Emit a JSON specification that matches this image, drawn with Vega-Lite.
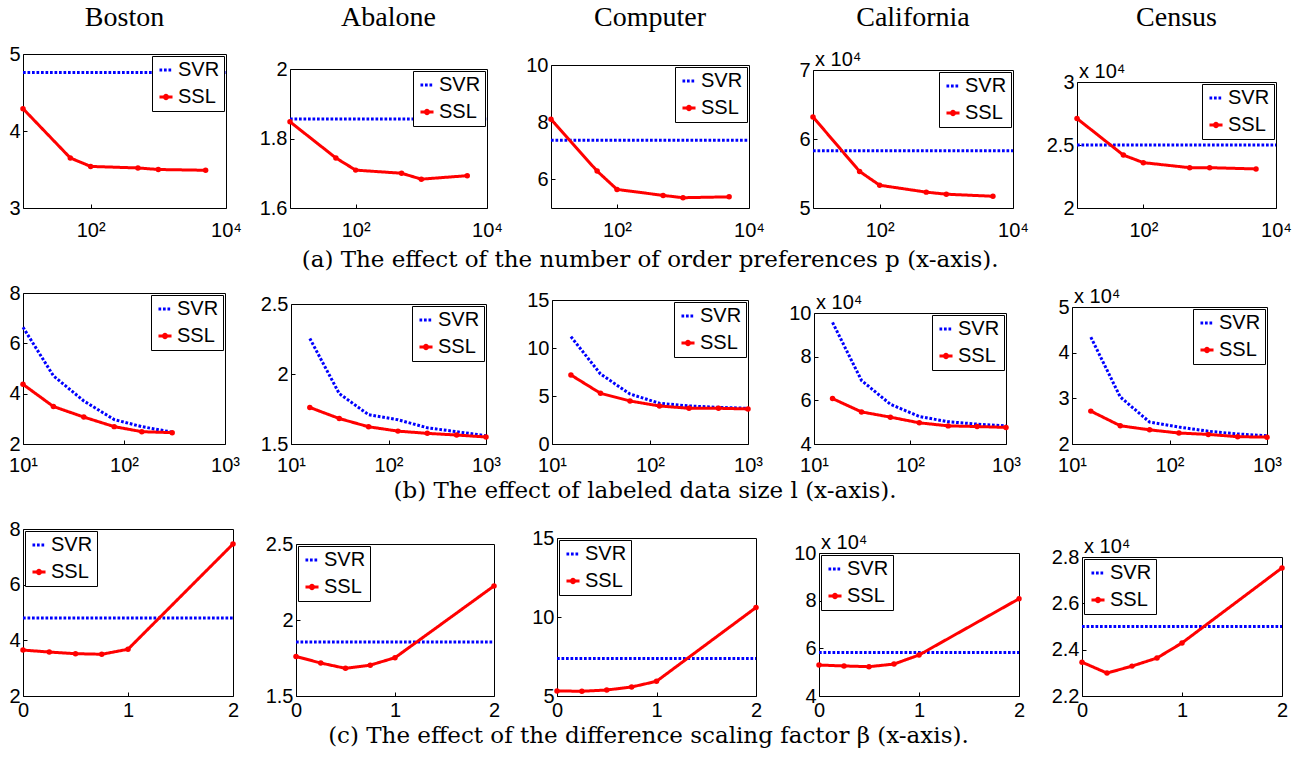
{
 "$schema": "https://vega.github.io/schema/vega-lite/v6.json",
 "padding": {"left": 8, "top": 3, "right": 0, "bottom": 0},
 "background": "white",
 "datasets": {
  "p": [
   {"ds":"Boston","method":"SVR","p":10,"error":4.76},{"ds":"Boston","method":"SVR","p":10000,"error":4.76},
   {"ds":"Boston","method":"SSL","p":10,"error":4.29},{"ds":"Boston","method":"SSL","p":50,"error":3.65},{"ds":"Boston","method":"SSL","p":100,"error":3.54},{"ds":"Boston","method":"SSL","p":500,"error":3.52},{"ds":"Boston","method":"SSL","p":1000,"error":3.50},{"ds":"Boston","method":"SSL","p":5000,"error":3.49},
   {"ds":"Abalone","method":"SVR","p":10,"error":1.856},{"ds":"Abalone","method":"SVR","p":10000,"error":1.856},
   {"ds":"Abalone","method":"SSL","p":10,"error":1.848},{"ds":"Abalone","method":"SSL","p":50,"error":1.744},{"ds":"Abalone","method":"SSL","p":100,"error":1.709},{"ds":"Abalone","method":"SSL","p":500,"error":1.700},{"ds":"Abalone","method":"SSL","p":1000,"error":1.683},{"ds":"Abalone","method":"SSL","p":5000,"error":1.693},
   {"ds":"Computer","method":"SVR","p":10,"error":7.37},{"ds":"Computer","method":"SVR","p":10000,"error":7.37},
   {"ds":"Computer","method":"SSL","p":10,"error":8.10},{"ds":"Computer","method":"SSL","p":50,"error":6.29},{"ds":"Computer","method":"SSL","p":100,"error":5.65},{"ds":"Computer","method":"SSL","p":500,"error":5.44},{"ds":"Computer","method":"SSL","p":1000,"error":5.36},{"ds":"Computer","method":"SSL","p":5000,"error":5.39},
   {"ds":"California","method":"SVR","p":10,"error":58300},{"ds":"California","method":"SVR","p":10000,"error":58300},
   {"ds":"California","method":"SSL","p":10,"error":63200},{"ds":"California","method":"SSL","p":50,"error":55300},{"ds":"California","method":"SSL","p":100,"error":53300},{"ds":"California","method":"SSL","p":500,"error":52300},{"ds":"California","method":"SSL","p":1000,"error":52000},{"ds":"California","method":"SSL","p":5000,"error":51700},
   {"ds":"Census","method":"SVR","p":10,"error":25000},{"ds":"Census","method":"SVR","p":10000,"error":25000},
   {"ds":"Census","method":"SSL","p":10,"error":27100},{"ds":"Census","method":"SSL","p":50,"error":24200},{"ds":"Census","method":"SSL","p":100,"error":23600},{"ds":"Census","method":"SSL","p":500,"error":23200},{"ds":"Census","method":"SSL","p":1000,"error":23200},{"ds":"Census","method":"SSL","p":5000,"error":23100}
  ],
  "l": [
   {"ds":"Boston","method":"SVR","l":10,"error":6.64},{"ds":"Boston","method":"SVR","l":20,"error":4.71},{"ds":"Boston","method":"SVR","l":40,"error":3.71},{"ds":"Boston","method":"SVR","l":80,"error":2.97},{"ds":"Boston","method":"SVR","l":150,"error":2.69},{"ds":"Boston","method":"SVR","l":300,"error":2.47},
   {"ds":"Boston","method":"SSL","l":10,"error":4.37},{"ds":"Boston","method":"SSL","l":20,"error":3.49},{"ds":"Boston","method":"SSL","l":40,"error":3.07},{"ds":"Boston","method":"SSL","l":80,"error":2.69},{"ds":"Boston","method":"SSL","l":150,"error":2.49},{"ds":"Boston","method":"SSL","l":300,"error":2.45},
   {"ds":"Abalone","method":"SVR","l":15.6,"error":2.254},{"ds":"Abalone","method":"SVR","l":31.25,"error":1.860},{"ds":"Abalone","method":"SVR","l":62.5,"error":1.709},{"ds":"Abalone","method":"SVR","l":125,"error":1.673},{"ds":"Abalone","method":"SVR","l":250,"error":1.616},{"ds":"Abalone","method":"SVR","l":500,"error":1.588},{"ds":"Abalone","method":"SVR","l":1000,"error":1.559},
   {"ds":"Abalone","method":"SSL","l":15.6,"error":1.761},{"ds":"Abalone","method":"SSL","l":31.25,"error":1.682},{"ds":"Abalone","method":"SSL","l":62.5,"error":1.623},{"ds":"Abalone","method":"SSL","l":125,"error":1.592},{"ds":"Abalone","method":"SSL","l":250,"error":1.576},{"ds":"Abalone","method":"SSL","l":500,"error":1.564},{"ds":"Abalone","method":"SSL","l":1000,"error":1.550},
   {"ds":"Computer","method":"SVR","l":15.6,"error":11.18},{"ds":"Computer","method":"SVR","l":31.25,"error":7.29},{"ds":"Computer","method":"SVR","l":62.5,"error":5.21},{"ds":"Computer","method":"SVR","l":125,"error":4.24},{"ds":"Computer","method":"SVR","l":250,"error":3.96},{"ds":"Computer","method":"SVR","l":500,"error":3.82},{"ds":"Computer","method":"SVR","l":1000,"error":3.72},
   {"ds":"Computer","method":"SSL","l":15.6,"error":7.19},{"ds":"Computer","method":"SSL","l":31.25,"error":5.28},{"ds":"Computer","method":"SSL","l":62.5,"error":4.48},{"ds":"Computer","method":"SSL","l":125,"error":3.96},{"ds":"Computer","method":"SSL","l":250,"error":3.72},{"ds":"Computer","method":"SSL","l":500,"error":3.72},{"ds":"Computer","method":"SSL","l":1000,"error":3.65},
   {"ds":"California","method":"SVR","l":15.6,"error":95700},{"ds":"California","method":"SVR","l":31.25,"error":69100},{"ds":"California","method":"SVR","l":62.5,"error":58200},{"ds":"California","method":"SVR","l":125,"error":52600},{"ds":"California","method":"SVR","l":250,"error":50200},{"ds":"California","method":"SVR","l":500,"error":49100},{"ds":"California","method":"SVR","l":1000,"error":48300},
   {"ds":"California","method":"SSL","l":15.6,"error":60800},{"ds":"California","method":"SSL","l":31.25,"error":54700},{"ds":"California","method":"SSL","l":62.5,"error":52300},{"ds":"California","method":"SSL","l":125,"error":49700},{"ds":"California","method":"SSL","l":250,"error":48300},{"ds":"California","method":"SSL","l":500,"error":48000},{"ds":"California","method":"SSL","l":1000,"error":47600},
   {"ds":"Census","method":"SVR","l":15.6,"error":43400},{"ds":"Census","method":"SVR","l":31.25,"error":30300},{"ds":"Census","method":"SVR","l":62.5,"error":24800},{"ds":"Census","method":"SVR","l":125,"error":23700},{"ds":"Census","method":"SVR","l":250,"error":22800},{"ds":"Census","method":"SVR","l":500,"error":22200},{"ds":"Census","method":"SVR","l":1000,"error":21800},
   {"ds":"Census","method":"SSL","l":15.6,"error":27200},{"ds":"Census","method":"SSL","l":31.25,"error":24000},{"ds":"Census","method":"SSL","l":62.5,"error":23100},{"ds":"Census","method":"SSL","l":125,"error":22400},{"ds":"Census","method":"SSL","l":250,"error":22100},{"ds":"Census","method":"SSL","l":500,"error":21600},{"ds":"Census","method":"SSL","l":1000,"error":21500}
  ],
  "b": [
   {"ds":"Boston","method":"SVR","beta":0,"error":4.80},{"ds":"Boston","method":"SVR","beta":2,"error":4.80},
   {"ds":"Boston","method":"SSL","beta":0,"error":3.65},{"ds":"Boston","method":"SSL","beta":0.25,"error":3.58},{"ds":"Boston","method":"SSL","beta":0.5,"error":3.52},{"ds":"Boston","method":"SSL","beta":0.75,"error":3.50},{"ds":"Boston","method":"SSL","beta":1,"error":3.68},{"ds":"Boston","method":"SSL","beta":2,"error":7.46},
   {"ds":"Abalone","method":"SVR","beta":0,"error":1.855},{"ds":"Abalone","method":"SVR","beta":2,"error":1.855},
   {"ds":"Abalone","method":"SSL","beta":0,"error":1.760},{"ds":"Abalone","method":"SSL","beta":0.25,"error":1.717},{"ds":"Abalone","method":"SSL","beta":0.5,"error":1.682},{"ds":"Abalone","method":"SSL","beta":0.75,"error":1.703},{"ds":"Abalone","method":"SSL","beta":1,"error":1.752},{"ds":"Abalone","method":"SSL","beta":2,"error":2.224},
   {"ds":"Computer","method":"SVR","beta":0,"error":7.37},{"ds":"Computer","method":"SVR","beta":2,"error":7.37},
   {"ds":"Computer","method":"SSL","beta":0,"error":5.32},{"ds":"Computer","method":"SSL","beta":0.25,"error":5.30},{"ds":"Computer","method":"SSL","beta":0.5,"error":5.38},{"ds":"Computer","method":"SSL","beta":0.75,"error":5.57},{"ds":"Computer","method":"SSL","beta":1,"error":5.93},{"ds":"Computer","method":"SSL","beta":2,"error":10.60},
   {"ds":"California","method":"SVR","beta":0,"error":58200},{"ds":"California","method":"SVR","beta":2,"error":58200},
   {"ds":"California","method":"SSL","beta":0,"error":53000},{"ds":"California","method":"SSL","beta":0.25,"error":52600},{"ds":"California","method":"SSL","beta":0.5,"error":52300},{"ds":"California","method":"SSL","beta":0.75,"error":53400},{"ds":"California","method":"SSL","beta":1,"error":57200},{"ds":"California","method":"SSL","beta":2,"error":80800},
   {"ds":"Census","method":"SVR","beta":0,"error":25000},{"ds":"Census","method":"SVR","beta":2,"error":25000},
   {"ds":"Census","method":"SSL","beta":0,"error":23460},{"ds":"Census","method":"SSL","beta":0.25,"error":22990},{"ds":"Census","method":"SSL","beta":0.5,"error":23290},{"ds":"Census","method":"SSL","beta":0.75,"error":23640},{"ds":"Census","method":"SSL","beta":1,"error":24290},{"ds":"Census","method":"SSL","beta":2,"error":27530}
  ]
 },
 "spacing": 0,
 "resolve": {"scale": {"color": "independent", "strokeDash": "independent"}, "legend": {"color": "independent", "strokeDash": "independent"}},
 "vconcat": [
  {
   "hconcat": [
    {
     "width": 203, "height": 154,
     "title": {"text": "Boston", "frame": "group", "offset": 12, "font": "Liberation Serif", "fontSize": 28},
     "data": {"name": "p"}, "transform": [{"filter": "datum.ds === 'Boston'"}],
     "encoding": {
      "x": {"field": "p", "type": "quantitative", "scale": {"type": "log", "domain": [10, 10000]}, "axis": {"values": [100, 10000], "labelPadding": 16, "labelExpr": "datum.value == 10 ? '10\u00b9' : datum.value == 100 ? '10\u00b2' : datum.value == 1000 ? '10\u00b3' : '10\u2074'"}},
      "y": {"field": "error", "type": "quantitative", "scale": {"domain": [3, 5]}, "axis": {"values": [3, 4, 5], "minExtent": 0, "maxExtent": 0}}
     },
     "layer": [
      {"mark": {"type": "line", "strokeWidth": 3}, "encoding": {
       "color": {"field": "method", "type": "nominal", "scale": {"domain": ["SVR", "SSL"], "range": ["#0000ff", "#ff0000"]}, "legend": {"title": null, "orient": "top-right", "encode": {"symbols": {"update": {"shape": {"signal": "datum.value === 'SSL' ? 'M-1,0L1,0M-0.25,0A0.25,0.25,0,1,0,0.25,0A0.25,0.25,0,1,0,-0.25,0' : 'stroke'"}}}}}},
       "strokeDash": {"field": "method", "type": "nominal", "scale": {"domain": ["SVR", "SSL"], "range": [[2.7, 1.8], [1, 0]]}, "legend": {"title": null, "orient": "top-right", "encode": {"symbols": {"update": {"shape": {"signal": "datum.value === 'SSL' ? 'M-1,0L1,0M-0.25,0A0.25,0.25,0,1,0,0.25,0A0.25,0.25,0,1,0,-0.25,0' : 'stroke'"}}}}}}}},
      {"transform": [{"filter": "datum.method === 'SSL'"}], "mark": {"type": "point", "filled": true, "color": "#ff0000", "size": 30, "opacity": 1}}
     ]
    },
    {
     "vconcat": [
      {"width": 197, "height": 15, "data": {"values": []}, "mark": "point", "view": {"stroke": null}, "title": {"text": "Abalone", "frame": "group", "offset": 22, "font": "Liberation Serif", "fontSize": 28}},
      {
       "width": 197, "height": 139,
       "data": {"name": "p"}, "transform": [{"filter": "datum.ds === 'Abalone'"}],
       "encoding": {
        "x": {"field": "p", "type": "quantitative", "scale": {"type": "log", "domain": [10, 10000]}, "axis": {"values": [100, 10000], "labelPadding": 16, "labelExpr": "datum.value == 10 ? '10\u00b9' : datum.value == 100 ? '10\u00b2' : datum.value == 1000 ? '10\u00b3' : '10\u2074'"}},
        "y": {"field": "error", "type": "quantitative", "scale": {"domain": [1.6, 2]}, "axis": {"values": [1.6, 1.8, 2]}}
       },
       "layer": [
        {"mark": {"type": "line", "strokeWidth": 3}, "encoding": {
         "color": {"field": "method", "type": "nominal", "scale": {"domain": ["SVR", "SSL"], "range": ["#0000ff", "#ff0000"]}, "legend": {"title": null, "orient": "top-right", "encode": {"symbols": {"update": {"shape": {"signal": "datum.value === 'SSL' ? 'M-1,0L1,0M-0.25,0A0.25,0.25,0,1,0,0.25,0A0.25,0.25,0,1,0,-0.25,0' : 'stroke'"}}}}}},
         "strokeDash": {"field": "method", "type": "nominal", "scale": {"domain": ["SVR", "SSL"], "range": [[2.7, 1.8], [1, 0]]}, "legend": {"title": null, "orient": "top-right", "encode": {"symbols": {"update": {"shape": {"signal": "datum.value === 'SSL' ? 'M-1,0L1,0M-0.25,0A0.25,0.25,0,1,0,0.25,0A0.25,0.25,0,1,0,-0.25,0' : 'stroke'"}}}}}}}},
        {"transform": [{"filter": "datum.method === 'SSL'"}], "mark": {"type": "point", "filled": true, "color": "#ff0000", "size": 30, "opacity": 1}}
       ]
      }
     ],
     "spacing": 0, "bounds": "flush",
     "resolve": {"scale": {"color": "independent", "strokeDash": "independent"}, "legend": {"color": "independent", "strokeDash": "independent"}}
    },
    {
     "vconcat": [
      {"width": 198, "height": 11, "data": {"values": []}, "mark": "point", "view": {"stroke": null}, "title": {"text": "Computer", "frame": "group", "offset": 22, "font": "Liberation Serif", "fontSize": 28}},
      {
       "width": 198, "height": 143,
       "data": {"name": "p"}, "transform": [{"filter": "datum.ds === 'Computer'"}],
       "encoding": {
        "x": {"field": "p", "type": "quantitative", "scale": {"type": "log", "domain": [10, 10000]}, "axis": {"values": [100, 10000], "labelPadding": 16, "labelExpr": "datum.value == 10 ? '10\u00b9' : datum.value == 100 ? '10\u00b2' : datum.value == 1000 ? '10\u00b3' : '10\u2074'"}},
        "y": {"field": "error", "type": "quantitative", "scale": {"domain": [5, 10]}, "axis": {"values": [6, 8, 10]}}
       },
       "layer": [
        {"mark": {"type": "line", "strokeWidth": 3}, "encoding": {
         "color": {"field": "method", "type": "nominal", "scale": {"domain": ["SVR", "SSL"], "range": ["#0000ff", "#ff0000"]}, "legend": {"title": null, "orient": "top-right", "encode": {"symbols": {"update": {"shape": {"signal": "datum.value === 'SSL' ? 'M-1,0L1,0M-0.25,0A0.25,0.25,0,1,0,0.25,0A0.25,0.25,0,1,0,-0.25,0' : 'stroke'"}}}}}},
         "strokeDash": {"field": "method", "type": "nominal", "scale": {"domain": ["SVR", "SSL"], "range": [[2.7, 1.8], [1, 0]]}, "legend": {"title": null, "orient": "top-right", "encode": {"symbols": {"update": {"shape": {"signal": "datum.value === 'SSL' ? 'M-1,0L1,0M-0.25,0A0.25,0.25,0,1,0,0.25,0A0.25,0.25,0,1,0,-0.25,0' : 'stroke'"}}}}}}}},
        {"transform": [{"filter": "datum.method === 'SSL'"}], "mark": {"type": "point", "filled": true, "color": "#ff0000", "size": 30, "opacity": 1}}
       ]
      }
     ],
     "spacing": 0, "bounds": "flush",
     "resolve": {"scale": {"color": "independent", "strokeDash": "independent"}, "legend": {"color": "independent", "strokeDash": "independent"}}
    },
    {
     "vconcat": [
      {"width": 200, "height": 16, "data": {"values": []}, "mark": "point", "view": {"stroke": null}, "title": {"text": "California", "frame": "group", "offset": 22, "font": "Liberation Serif", "fontSize": 28}},
      {
       "width": 200, "height": 138,
       "title": {"text": "x 10\u2074", "frame": "group", "anchor": "start", "offset": -10, "dx": 2, "font": "Liberation Sans", "fontSize": 20},
       "data": {"name": "p"}, "transform": [{"filter": "datum.ds === 'California'"}],
       "encoding": {
        "x": {"field": "p", "type": "quantitative", "scale": {"type": "log", "domain": [10, 10000]}, "axis": {"values": [100, 10000], "labelPadding": 16, "labelExpr": "datum.value == 10 ? '10\u00b9' : datum.value == 100 ? '10\u00b2' : datum.value == 1000 ? '10\u00b3' : '10\u2074'"}},
        "y": {"field": "error", "type": "quantitative", "scale": {"domain": [50000, 70000]}, "axis": {"values": [50000, 60000, 70000], "labelExpr": "datum.value / 10000"}}
       },
       "layer": [
        {"mark": {"type": "line", "strokeWidth": 3}, "encoding": {
         "color": {"field": "method", "type": "nominal", "scale": {"domain": ["SVR", "SSL"], "range": ["#0000ff", "#ff0000"]}, "legend": {"title": null, "orient": "top-right", "encode": {"symbols": {"update": {"shape": {"signal": "datum.value === 'SSL' ? 'M-1,0L1,0M-0.25,0A0.25,0.25,0,1,0,0.25,0A0.25,0.25,0,1,0,-0.25,0' : 'stroke'"}}}}}},
         "strokeDash": {"field": "method", "type": "nominal", "scale": {"domain": ["SVR", "SSL"], "range": [[2.7, 1.8], [1, 0]]}, "legend": {"title": null, "orient": "top-right", "encode": {"symbols": {"update": {"shape": {"signal": "datum.value === 'SSL' ? 'M-1,0L1,0M-0.25,0A0.25,0.25,0,1,0,0.25,0A0.25,0.25,0,1,0,-0.25,0' : 'stroke'"}}}}}}}},
        {"transform": [{"filter": "datum.method === 'SSL'"}], "mark": {"type": "point", "filled": true, "color": "#ff0000", "size": 30, "opacity": 1}}
       ]
      }
     ],
     "spacing": 0, "bounds": "flush",
     "resolve": {"scale": {"color": "independent", "strokeDash": "independent"}, "legend": {"color": "independent", "strokeDash": "independent"}}
    },
    {
     "vconcat": [
      {"width": 199, "height": 28, "data": {"values": []}, "mark": "point", "view": {"stroke": null}, "title": {"text": "Census", "frame": "group", "offset": 22, "font": "Liberation Serif", "fontSize": 28}},
      {
       "width": 199, "height": 126,
       "title": {"text": "x 10\u2074", "frame": "group", "anchor": "start", "offset": -10, "dx": 2, "font": "Liberation Sans", "fontSize": 20},
       "data": {"name": "p"}, "transform": [{"filter": "datum.ds === 'Census'"}],
       "encoding": {
        "x": {"field": "p", "type": "quantitative", "scale": {"type": "log", "domain": [10, 10000]}, "axis": {"values": [100, 10000], "labelPadding": 16, "labelExpr": "datum.value == 10 ? '10\u00b9' : datum.value == 100 ? '10\u00b2' : datum.value == 1000 ? '10\u00b3' : '10\u2074'"}},
        "y": {"field": "error", "type": "quantitative", "scale": {"domain": [20000, 30000]}, "axis": {"values": [20000, 25000, 30000], "labelExpr": "datum.value / 10000"}}
       },
       "layer": [
        {"mark": {"type": "line", "strokeWidth": 3}, "encoding": {
         "color": {"field": "method", "type": "nominal", "scale": {"domain": ["SVR", "SSL"], "range": ["#0000ff", "#ff0000"]}, "legend": {"title": null, "orient": "top-right", "encode": {"symbols": {"update": {"shape": {"signal": "datum.value === 'SSL' ? 'M-1,0L1,0M-0.25,0A0.25,0.25,0,1,0,0.25,0A0.25,0.25,0,1,0,-0.25,0' : 'stroke'"}}}}}},
         "strokeDash": {"field": "method", "type": "nominal", "scale": {"domain": ["SVR", "SSL"], "range": [[2.7, 1.8], [1, 0]]}, "legend": {"title": null, "orient": "top-right", "encode": {"symbols": {"update": {"shape": {"signal": "datum.value === 'SSL' ? 'M-1,0L1,0M-0.25,0A0.25,0.25,0,1,0,0.25,0A0.25,0.25,0,1,0,-0.25,0' : 'stroke'"}}}}}}}},
        {"transform": [{"filter": "datum.method === 'SSL'"}], "mark": {"type": "point", "filled": true, "color": "#ff0000", "size": 30, "opacity": 1}}
       ]
      }
     ],
     "spacing": 0, "bounds": "flush",
     "resolve": {"scale": {"color": "independent", "strokeDash": "independent"}, "legend": {"color": "independent", "strokeDash": "independent"}}
    }
   ],
   "spacing": 7,
   "resolve": {"scale": {"color": "independent", "strokeDash": "independent"}, "legend": {"color": "independent", "strokeDash": "independent"}},
   "title": {"text": "(a) The effect of the number of order preferences p (x-axis).", "orient": "bottom", "anchor": "middle", "offset": 8}
  },
  {
   "hconcat": [
    {
     "vconcat": [
      {"width": 202, "height": 21, "data": {"values": []}, "mark": "point", "view": {"stroke": null}},
      {
       "width": 202, "height": 151,
       "data": {"name": "l"}, "transform": [{"filter": "datum.ds === 'Boston'"}],
       "encoding": {
        "x": {"field": "l", "type": "quantitative", "scale": {"type": "log", "domain": [10, 1000]}, "axis": {"values": [10, 100, 1000], "labelPadding": 15, "labelExpr": "datum.value == 10 ? '10\u00b9' : datum.value == 100 ? '10\u00b2' : datum.value == 1000 ? '10\u00b3' : '10\u2074'"}},
        "y": {"field": "error", "type": "quantitative", "scale": {"domain": [2, 8]}, "axis": {"values": [2, 4, 6, 8], "minExtent": 0, "maxExtent": 0}}
       },
       "layer": [
        {"mark": {"type": "line", "strokeWidth": 3}, "encoding": {
         "color": {"field": "method", "type": "nominal", "scale": {"domain": ["SVR", "SSL"], "range": ["#0000ff", "#ff0000"]}, "legend": {"title": null, "orient": "top-right", "encode": {"symbols": {"update": {"shape": {"signal": "datum.value === 'SSL' ? 'M-1,0L1,0M-0.25,0A0.25,0.25,0,1,0,0.25,0A0.25,0.25,0,1,0,-0.25,0' : 'stroke'"}}}}}},
         "strokeDash": {"field": "method", "type": "nominal", "scale": {"domain": ["SVR", "SSL"], "range": [[2.7, 1.8], [1, 0]]}, "legend": {"title": null, "orient": "top-right", "encode": {"symbols": {"update": {"shape": {"signal": "datum.value === 'SSL' ? 'M-1,0L1,0M-0.25,0A0.25,0.25,0,1,0,0.25,0A0.25,0.25,0,1,0,-0.25,0' : 'stroke'"}}}}}}}},
        {"transform": [{"filter": "datum.method === 'SSL'"}], "mark": {"type": "point", "filled": true, "color": "#ff0000", "size": 30, "opacity": 1}}
       ]
      }
     ],
     "spacing": 0, "bounds": "flush",
     "resolve": {"scale": {"color": "independent", "strokeDash": "independent"}, "legend": {"color": "independent", "strokeDash": "independent"}}
    },
    {
     "vconcat": [
      {"width": 195, "height": 32, "data": {"values": []}, "mark": "point", "view": {"stroke": null}},
      {
       "width": 195, "height": 140,
       "data": {"name": "l"}, "transform": [{"filter": "datum.ds === 'Abalone'"}],
       "encoding": {
        "x": {"field": "l", "type": "quantitative", "scale": {"type": "log", "domain": [10, 1000]}, "axis": {"values": [10, 100, 1000], "labelPadding": 15, "labelExpr": "datum.value == 10 ? '10\u00b9' : datum.value == 100 ? '10\u00b2' : datum.value == 1000 ? '10\u00b3' : '10\u2074'"}},
        "y": {"field": "error", "type": "quantitative", "scale": {"domain": [1.5, 2.5]}, "axis": {"values": [1.5, 2, 2.5]}}
       },
       "layer": [
        {"mark": {"type": "line", "strokeWidth": 3}, "encoding": {
         "color": {"field": "method", "type": "nominal", "scale": {"domain": ["SVR", "SSL"], "range": ["#0000ff", "#ff0000"]}, "legend": {"title": null, "orient": "top-right", "encode": {"symbols": {"update": {"shape": {"signal": "datum.value === 'SSL' ? 'M-1,0L1,0M-0.25,0A0.25,0.25,0,1,0,0.25,0A0.25,0.25,0,1,0,-0.25,0' : 'stroke'"}}}}}},
         "strokeDash": {"field": "method", "type": "nominal", "scale": {"domain": ["SVR", "SSL"], "range": [[2.7, 1.8], [1, 0]]}, "legend": {"title": null, "orient": "top-right", "encode": {"symbols": {"update": {"shape": {"signal": "datum.value === 'SSL' ? 'M-1,0L1,0M-0.25,0A0.25,0.25,0,1,0,0.25,0A0.25,0.25,0,1,0,-0.25,0' : 'stroke'"}}}}}}}},
        {"transform": [{"filter": "datum.method === 'SSL'"}], "mark": {"type": "point", "filled": true, "color": "#ff0000", "size": 30, "opacity": 1}}
       ]
      }
     ],
     "spacing": 0, "bounds": "flush",
     "resolve": {"scale": {"color": "independent", "strokeDash": "independent"}, "legend": {"color": "independent", "strokeDash": "independent"}}
    },
    {
     "vconcat": [
      {"width": 196, "height": 28, "data": {"values": []}, "mark": "point", "view": {"stroke": null}},
      {
       "width": 196, "height": 144,
       "data": {"name": "l"}, "transform": [{"filter": "datum.ds === 'Computer'"}],
       "encoding": {
        "x": {"field": "l", "type": "quantitative", "scale": {"type": "log", "domain": [10, 1000]}, "axis": {"values": [10, 100, 1000], "labelPadding": 15, "labelExpr": "datum.value == 10 ? '10\u00b9' : datum.value == 100 ? '10\u00b2' : datum.value == 1000 ? '10\u00b3' : '10\u2074'"}},
        "y": {"field": "error", "type": "quantitative", "scale": {"domain": [0, 15]}, "axis": {"values": [0, 5, 10, 15]}}
       },
       "layer": [
        {"mark": {"type": "line", "strokeWidth": 3}, "encoding": {
         "color": {"field": "method", "type": "nominal", "scale": {"domain": ["SVR", "SSL"], "range": ["#0000ff", "#ff0000"]}, "legend": {"title": null, "orient": "top-right", "encode": {"symbols": {"update": {"shape": {"signal": "datum.value === 'SSL' ? 'M-1,0L1,0M-0.25,0A0.25,0.25,0,1,0,0.25,0A0.25,0.25,0,1,0,-0.25,0' : 'stroke'"}}}}}},
         "strokeDash": {"field": "method", "type": "nominal", "scale": {"domain": ["SVR", "SSL"], "range": [[2.7, 1.8], [1, 0]]}, "legend": {"title": null, "orient": "top-right", "encode": {"symbols": {"update": {"shape": {"signal": "datum.value === 'SSL' ? 'M-1,0L1,0M-0.25,0A0.25,0.25,0,1,0,0.25,0A0.25,0.25,0,1,0,-0.25,0' : 'stroke'"}}}}}}}},
        {"transform": [{"filter": "datum.method === 'SSL'"}], "mark": {"type": "point", "filled": true, "color": "#ff0000", "size": 30, "opacity": 1}}
       ]
      }
     ],
     "spacing": 0, "bounds": "flush",
     "resolve": {"scale": {"color": "independent", "strokeDash": "independent"}, "legend": {"color": "independent", "strokeDash": "independent"}}
    },
    {
     "vconcat": [
      {"width": 192, "height": 41, "data": {"values": []}, "mark": "point", "view": {"stroke": null}},
      {
       "width": 192, "height": 131,
       "title": {"text": "x 10\u2074", "frame": "group", "anchor": "start", "offset": -10, "dx": 2, "font": "Liberation Sans", "fontSize": 20},
       "data": {"name": "l"}, "transform": [{"filter": "datum.ds === 'California'"}],
       "encoding": {
        "x": {"field": "l", "type": "quantitative", "scale": {"type": "log", "domain": [10, 1000]}, "axis": {"values": [10, 100, 1000], "labelPadding": 15, "labelExpr": "datum.value == 10 ? '10\u00b9' : datum.value == 100 ? '10\u00b2' : datum.value == 1000 ? '10\u00b3' : '10\u2074'"}},
        "y": {"field": "error", "type": "quantitative", "scale": {"domain": [40000, 100000]}, "axis": {"values": [40000, 60000, 80000, 100000], "labelExpr": "datum.value / 10000"}}
       },
       "layer": [
        {"mark": {"type": "line", "strokeWidth": 3}, "encoding": {
         "color": {"field": "method", "type": "nominal", "scale": {"domain": ["SVR", "SSL"], "range": ["#0000ff", "#ff0000"]}, "legend": {"title": null, "orient": "top-right", "encode": {"symbols": {"update": {"shape": {"signal": "datum.value === 'SSL' ? 'M-1,0L1,0M-0.25,0A0.25,0.25,0,1,0,0.25,0A0.25,0.25,0,1,0,-0.25,0' : 'stroke'"}}}}}},
         "strokeDash": {"field": "method", "type": "nominal", "scale": {"domain": ["SVR", "SSL"], "range": [[2.7, 1.8], [1, 0]]}, "legend": {"title": null, "orient": "top-right", "encode": {"symbols": {"update": {"shape": {"signal": "datum.value === 'SSL' ? 'M-1,0L1,0M-0.25,0A0.25,0.25,0,1,0,0.25,0A0.25,0.25,0,1,0,-0.25,0' : 'stroke'"}}}}}}}},
        {"transform": [{"filter": "datum.method === 'SSL'"}], "mark": {"type": "point", "filled": true, "color": "#ff0000", "size": 30, "opacity": 1}}
       ]
      }
     ],
     "spacing": 0, "bounds": "flush",
     "resolve": {"scale": {"color": "independent", "strokeDash": "independent"}, "legend": {"color": "independent", "strokeDash": "independent"}}
    },
    {
     "vconcat": [
      {"width": 195, "height": 35, "data": {"values": []}, "mark": "point", "view": {"stroke": null}},
      {
       "width": 195, "height": 137,
       "title": {"text": "x 10\u2074", "frame": "group", "anchor": "start", "offset": -10, "dx": 2, "font": "Liberation Sans", "fontSize": 20},
       "data": {"name": "l"}, "transform": [{"filter": "datum.ds === 'Census'"}],
       "encoding": {
        "x": {"field": "l", "type": "quantitative", "scale": {"type": "log", "domain": [10, 1000]}, "axis": {"values": [10, 100, 1000], "labelPadding": 15, "labelExpr": "datum.value == 10 ? '10\u00b9' : datum.value == 100 ? '10\u00b2' : datum.value == 1000 ? '10\u00b3' : '10\u2074'"}},
        "y": {"field": "error", "type": "quantitative", "scale": {"domain": [20000, 50000]}, "axis": {"values": [20000, 30000, 40000, 50000], "labelExpr": "datum.value / 10000"}}
       },
       "layer": [
        {"mark": {"type": "line", "strokeWidth": 3}, "encoding": {
         "color": {"field": "method", "type": "nominal", "scale": {"domain": ["SVR", "SSL"], "range": ["#0000ff", "#ff0000"]}, "legend": {"title": null, "orient": "top-right", "encode": {"symbols": {"update": {"shape": {"signal": "datum.value === 'SSL' ? 'M-1,0L1,0M-0.25,0A0.25,0.25,0,1,0,0.25,0A0.25,0.25,0,1,0,-0.25,0' : 'stroke'"}}}}}},
         "strokeDash": {"field": "method", "type": "nominal", "scale": {"domain": ["SVR", "SSL"], "range": [[2.7, 1.8], [1, 0]]}, "legend": {"title": null, "orient": "top-right", "encode": {"symbols": {"update": {"shape": {"signal": "datum.value === 'SSL' ? 'M-1,0L1,0M-0.25,0A0.25,0.25,0,1,0,0.25,0A0.25,0.25,0,1,0,-0.25,0' : 'stroke'"}}}}}}}},
        {"transform": [{"filter": "datum.method === 'SSL'"}], "mark": {"type": "point", "filled": true, "color": "#ff0000", "size": 30, "opacity": 1}}
       ]
      }
     ],
     "spacing": 0, "bounds": "flush",
     "resolve": {"scale": {"color": "independent", "strokeDash": "independent"}, "legend": {"color": "independent", "strokeDash": "independent"}}
    }
   ],
   "spacing": 10,
   "resolve": {"scale": {"color": "independent", "strokeDash": "independent"}, "legend": {"color": "independent", "strokeDash": "independent"}},
   "title": {"text": "(b) The effect of labeled data size l (x-axis).", "orient": "bottom", "anchor": "middle", "offset": 4}
  },
  {
   "hconcat": [
    {
     "vconcat": [
      {"width": 210, "height": 26, "data": {"values": []}, "mark": "point", "view": {"stroke": null}},
      {
       "width": 210, "height": 167,
       "data": {"name": "b"}, "transform": [{"filter": "datum.ds === 'Boston'"}],
       "encoding": {
        "x": {"field": "beta", "type": "quantitative", "scale": {"domain": [0, 2]}, "axis": {"values": [0, 1, 2], "labelPadding": 8}},
        "y": {"field": "error", "type": "quantitative", "scale": {"domain": [2, 8]}, "axis": {"values": [2, 4, 6, 8], "minExtent": 0, "maxExtent": 0}}
       },
       "layer": [
        {"mark": {"type": "line", "strokeWidth": 3}, "encoding": {
         "color": {"field": "method", "type": "nominal", "scale": {"domain": ["SVR", "SSL"], "range": ["#0000ff", "#ff0000"]}, "legend": {"title": null, "orient": "top-left", "encode": {"symbols": {"update": {"shape": {"signal": "datum.value === 'SSL' ? 'M-1,0L1,0M-0.25,0A0.25,0.25,0,1,0,0.25,0A0.25,0.25,0,1,0,-0.25,0' : 'stroke'"}}}}}},
         "strokeDash": {"field": "method", "type": "nominal", "scale": {"domain": ["SVR", "SSL"], "range": [[2.7, 1.8], [1, 0]]}, "legend": {"title": null, "orient": "top-left", "encode": {"symbols": {"update": {"shape": {"signal": "datum.value === 'SSL' ? 'M-1,0L1,0M-0.25,0A0.25,0.25,0,1,0,0.25,0A0.25,0.25,0,1,0,-0.25,0' : 'stroke'"}}}}}}}},
        {"transform": [{"filter": "datum.method === 'SSL'"}], "mark": {"type": "point", "filled": true, "color": "#ff0000", "size": 30, "opacity": 1}}
       ]
      }
     ],
     "spacing": 0, "bounds": "flush",
     "resolve": {"scale": {"color": "independent", "strokeDash": "independent"}, "legend": {"color": "independent", "strokeDash": "independent"}}
    },
    {
     "vconcat": [
      {"width": 198, "height": 41, "data": {"values": []}, "mark": "point", "view": {"stroke": null}},
      {
       "width": 198, "height": 152,
       "data": {"name": "b"}, "transform": [{"filter": "datum.ds === 'Abalone'"}],
       "encoding": {
        "x": {"field": "beta", "type": "quantitative", "scale": {"domain": [0, 2]}, "axis": {"values": [0, 1, 2], "labelPadding": 8}},
        "y": {"field": "error", "type": "quantitative", "scale": {"domain": [1.5, 2.5]}, "axis": {"values": [1.5, 2, 2.5]}}
       },
       "layer": [
        {"mark": {"type": "line", "strokeWidth": 3}, "encoding": {
         "color": {"field": "method", "type": "nominal", "scale": {"domain": ["SVR", "SSL"], "range": ["#0000ff", "#ff0000"]}, "legend": {"title": null, "orient": "top-left", "encode": {"symbols": {"update": {"shape": {"signal": "datum.value === 'SSL' ? 'M-1,0L1,0M-0.25,0A0.25,0.25,0,1,0,0.25,0A0.25,0.25,0,1,0,-0.25,0' : 'stroke'"}}}}}},
         "strokeDash": {"field": "method", "type": "nominal", "scale": {"domain": ["SVR", "SSL"], "range": [[2.7, 1.8], [1, 0]]}, "legend": {"title": null, "orient": "top-left", "encode": {"symbols": {"update": {"shape": {"signal": "datum.value === 'SSL' ? 'M-1,0L1,0M-0.25,0A0.25,0.25,0,1,0,0.25,0A0.25,0.25,0,1,0,-0.25,0' : 'stroke'"}}}}}}}},
        {"transform": [{"filter": "datum.method === 'SSL'"}], "mark": {"type": "point", "filled": true, "color": "#ff0000", "size": 30, "opacity": 1}}
       ]
      }
     ],
     "spacing": 0, "bounds": "flush",
     "resolve": {"scale": {"color": "independent", "strokeDash": "independent"}, "legend": {"color": "independent", "strokeDash": "independent"}}
    },
    {
     "vconcat": [
      {"width": 199, "height": 35, "data": {"values": []}, "mark": "point", "view": {"stroke": null}},
      {
       "width": 199, "height": 158,
       "data": {"name": "b"}, "transform": [{"filter": "datum.ds === 'Computer'"}],
       "encoding": {
        "x": {"field": "beta", "type": "quantitative", "scale": {"domain": [0, 2]}, "axis": {"values": [0, 1, 2], "labelPadding": 8}},
        "y": {"field": "error", "type": "quantitative", "scale": {"domain": [5, 15]}, "axis": {"values": [5, 10, 15]}}
       },
       "layer": [
        {"mark": {"type": "line", "strokeWidth": 3}, "encoding": {
         "color": {"field": "method", "type": "nominal", "scale": {"domain": ["SVR", "SSL"], "range": ["#0000ff", "#ff0000"]}, "legend": {"title": null, "orient": "top-left", "encode": {"symbols": {"update": {"shape": {"signal": "datum.value === 'SSL' ? 'M-1,0L1,0M-0.25,0A0.25,0.25,0,1,0,0.25,0A0.25,0.25,0,1,0,-0.25,0' : 'stroke'"}}}}}},
         "strokeDash": {"field": "method", "type": "nominal", "scale": {"domain": ["SVR", "SSL"], "range": [[2.7, 1.8], [1, 0]]}, "legend": {"title": null, "orient": "top-left", "encode": {"symbols": {"update": {"shape": {"signal": "datum.value === 'SSL' ? 'M-1,0L1,0M-0.25,0A0.25,0.25,0,1,0,0.25,0A0.25,0.25,0,1,0,-0.25,0' : 'stroke'"}}}}}}}},
        {"transform": [{"filter": "datum.method === 'SSL'"}], "mark": {"type": "point", "filled": true, "color": "#ff0000", "size": 30, "opacity": 1}}
       ]
      }
     ],
     "spacing": 0, "bounds": "flush",
     "resolve": {"scale": {"color": "independent", "strokeDash": "independent"}, "legend": {"color": "independent", "strokeDash": "independent"}}
    },
    {
     "vconcat": [
      {"width": 200, "height": 50, "data": {"values": []}, "mark": "point", "view": {"stroke": null}},
      {
       "width": 200, "height": 143,
       "title": {"text": "x 10\u2074", "frame": "group", "anchor": "start", "offset": -10, "dx": 2, "font": "Liberation Sans", "fontSize": 20},
       "data": {"name": "b"}, "transform": [{"filter": "datum.ds === 'California'"}],
       "encoding": {
        "x": {"field": "beta", "type": "quantitative", "scale": {"domain": [0, 2]}, "axis": {"values": [0, 1, 2], "labelPadding": 8}},
        "y": {"field": "error", "type": "quantitative", "scale": {"domain": [40000, 100000]}, "axis": {"values": [40000, 60000, 80000, 100000], "labelExpr": "datum.value / 10000"}}
       },
       "layer": [
        {"mark": {"type": "line", "strokeWidth": 3}, "encoding": {
         "color": {"field": "method", "type": "nominal", "scale": {"domain": ["SVR", "SSL"], "range": ["#0000ff", "#ff0000"]}, "legend": {"title": null, "orient": "top-left", "encode": {"symbols": {"update": {"shape": {"signal": "datum.value === 'SSL' ? 'M-1,0L1,0M-0.25,0A0.25,0.25,0,1,0,0.25,0A0.25,0.25,0,1,0,-0.25,0' : 'stroke'"}}}}}},
         "strokeDash": {"field": "method", "type": "nominal", "scale": {"domain": ["SVR", "SSL"], "range": [[2.7, 1.8], [1, 0]]}, "legend": {"title": null, "orient": "top-left", "encode": {"symbols": {"update": {"shape": {"signal": "datum.value === 'SSL' ? 'M-1,0L1,0M-0.25,0A0.25,0.25,0,1,0,0.25,0A0.25,0.25,0,1,0,-0.25,0' : 'stroke'"}}}}}}}},
        {"transform": [{"filter": "datum.method === 'SSL'"}], "mark": {"type": "point", "filled": true, "color": "#ff0000", "size": 30, "opacity": 1}}
       ]
      }
     ],
     "spacing": 0, "bounds": "flush",
     "resolve": {"scale": {"color": "independent", "strokeDash": "independent"}, "legend": {"color": "independent", "strokeDash": "independent"}}
    },
    {
     "vconcat": [
      {"width": 200, "height": 54, "data": {"values": []}, "mark": "point", "view": {"stroke": null}},
      {
       "width": 200, "height": 139,
       "title": {"text": "x 10\u2074", "frame": "group", "anchor": "start", "offset": -10, "dx": 2, "font": "Liberation Sans", "fontSize": 20},
       "data": {"name": "b"}, "transform": [{"filter": "datum.ds === 'Census'"}],
       "encoding": {
        "x": {"field": "beta", "type": "quantitative", "scale": {"domain": [0, 2]}, "axis": {"values": [0, 1, 2], "labelPadding": 8}},
        "y": {"field": "error", "type": "quantitative", "scale": {"domain": [22000, 28000]}, "axis": {"values": [22000, 24000, 26000, 28000], "labelExpr": "datum.value / 10000"}}
       },
       "layer": [
        {"mark": {"type": "line", "strokeWidth": 3}, "encoding": {
         "color": {"field": "method", "type": "nominal", "scale": {"domain": ["SVR", "SSL"], "range": ["#0000ff", "#ff0000"]}, "legend": {"title": null, "orient": "top-left", "encode": {"symbols": {"update": {"shape": {"signal": "datum.value === 'SSL' ? 'M-1,0L1,0M-0.25,0A0.25,0.25,0,1,0,0.25,0A0.25,0.25,0,1,0,-0.25,0' : 'stroke'"}}}}}},
         "strokeDash": {"field": "method", "type": "nominal", "scale": {"domain": ["SVR", "SSL"], "range": [[2.7, 1.8], [1, 0]]}, "legend": {"title": null, "orient": "top-left", "encode": {"symbols": {"update": {"shape": {"signal": "datum.value === 'SSL' ? 'M-1,0L1,0M-0.25,0A0.25,0.25,0,1,0,0.25,0A0.25,0.25,0,1,0,-0.25,0' : 'stroke'"}}}}}}}},
        {"transform": [{"filter": "datum.method === 'SSL'"}], "mark": {"type": "point", "filled": true, "color": "#ff0000", "size": 30, "opacity": 1}}
       ]
      }
     ],
     "spacing": 0, "bounds": "flush",
     "resolve": {"scale": {"color": "independent", "strokeDash": "independent"}, "legend": {"color": "independent", "strokeDash": "independent"}}
    }
   ],
   "spacing": 15,
   "resolve": {"scale": {"color": "independent", "strokeDash": "independent"}, "legend": {"color": "independent", "strokeDash": "independent"}},
   "title": {"text": "(c) The effect of the difference scaling factor \u03b2 (x-axis).", "orient": "bottom", "anchor": "middle", "offset": 4}
  }
 ],
 "config": {
  "font": "Liberation Sans",
  "view": {"stroke": "black", "strokeWidth": 1},
  "axis": {"grid": false, "domain": false, "title": null, "labelFont": "Liberation Sans", "labelFontSize": 20, "labelColor": "black", "tickColor": "black", "tickSize": -4, "labelPadding": 7, "format": "~r", "labelFlush": false, "labelOverlap": false},
  "axisY": {"minExtent": 40, "maxExtent": 40},
  "legend": {"offset": 2, "padding": 4, "strokeColor": "black", "fillColor": "white", "labelFont": "Liberation Sans", "labelFontSize": 20, "labelColor": "black", "labelOffset": 2, "symbolSize": 170, "symbolStrokeWidth": 3, "rowPadding": 7},
  "title": {"font": "DejaVu Serif", "fontSize": 23, "fontWeight": "normal", "color": "black"}
 }
}
